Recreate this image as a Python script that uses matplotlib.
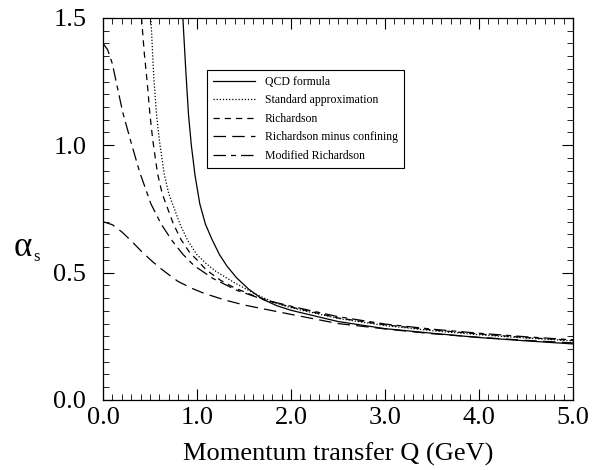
import matplotlib
matplotlib.use("Agg")
import matplotlib.pyplot as plt
from matplotlib.ticker import MultipleLocator, FormatStrFormatter

plt.rcParams['font.family'] = ['Liberation Serif', 'DejaVu Serif']

# ------------------ data ------------------
q_qcd = [0.85, 0.88, 0.91, 0.94, 0.98, 1.03, 1.09, 1.16, 1.24, 1.32, 1.42, 1.55,
         1.70, 1.85, 2.0, 2.25, 2.5, 3.0, 3.5, 4.0, 4.5, 5.0]
a_qcd = [1.5, 1.30, 1.12, 1.00, 0.88, 0.77, 0.69, 0.63, 0.57, 0.525, 0.48, 0.435,
         0.395, 0.37, 0.352, 0.33, 0.308, 0.28, 0.262, 0.245, 0.232, 0.22]

q_std = [0.51, 0.54, 0.57, 0.60, 0.65, 0.70, 0.75, 0.82, 0.90, 1.0, 1.1, 1.2,
         1.4, 1.6, 1.8, 2.0, 2.5, 3.0, 3.5, 4.0, 4.5, 5.0]
a_std = [1.5, 1.27, 1.12, 1.02, 0.89, 0.81, 0.76, 0.69, 0.627, 0.57, 0.535, 0.505,
         0.46, 0.42, 0.385, 0.362, 0.32, 0.292, 0.272, 0.256, 0.243, 0.232]

q_rich = [0.41, 0.44, 0.47, 0.50, 0.53, 0.58, 0.63, 0.68, 0.75, 0.83, 0.92, 1.0,
          1.1, 1.25, 1.4, 1.6, 1.8, 2.0, 2.5, 3.0, 3.5, 4.0, 4.5, 5.0]
a_rich = [1.5, 1.36, 1.25, 1.12, 1.02, 0.89, 0.81, 0.76, 0.69, 0.63, 0.58, 0.55,
          0.51, 0.47, 0.44, 0.41, 0.385, 0.365, 0.322, 0.295, 0.275, 0.259, 0.245, 0.234]

q_conf = [0.0, 0.1, 0.2, 0.3, 0.4, 0.5, 0.6, 0.7, 0.8, 0.96, 1.08, 1.3, 1.5,
          1.7, 2.0, 2.5, 3.0, 3.5, 4.0, 4.5, 5.0]
a_conf = [0.70, 0.688, 0.66, 0.625, 0.587, 0.552, 0.52, 0.492, 0.465, 0.436, 0.418,
          0.392, 0.373, 0.358, 0.336, 0.30, 0.279, 0.26, 0.246, 0.234, 0.224]

q_mod = [0.0, 0.05, 0.10, 0.14, 0.21, 0.30, 0.39, 0.51, 0.62, 0.73, 0.85, 0.97,
         1.17, 1.42, 1.7, 2.0, 2.5, 3.0, 3.5, 4.0, 4.5, 5.0]
a_mod = [1.40, 1.375, 1.32, 1.25, 1.13, 1.01, 0.895, 0.77, 0.69, 0.628, 0.572, 0.527,
         0.477, 0.431, 0.395, 0.368, 0.327, 0.298, 0.278, 0.262, 0.248, 0.236]

labels = ['QCD formula', 'Standard approximation', 'Richardson',
          'Richardson minus confining', 'Modified Richardson']
# ---------------------------------------------------------------

fig = plt.figure(figsize=(6.02, 4.70), dpi=100)
ax = fig.add_axes([0.171, 0.149, 0.781, 0.813])

lw = 0.9
ax.plot(q_qcd, a_qcd, color='black', lw=lw, ls='-', label=labels[0])
ax.plot(q_std, a_std, color='black', lw=lw, ls=(0, (1, 1.5)), label=labels[1])
ax.plot(q_rich, a_rich, color='black', lw=lw, ls=(0, (5, 4)), label=labels[2])
ax.plot(q_conf, a_conf, color='black', lw=lw, ls=(0, (10, 5)), label=labels[3])
ax.plot(q_mod, a_mod, color='black', lw=lw, ls=(0, (10, 4, 4, 4)), label=labels[4])

ax.set_xlim(0, 5)
ax.set_ylim(0, 1.5)
ax.xaxis.set_major_locator(MultipleLocator(1.0))
ax.xaxis.set_minor_locator(MultipleLocator(0.1))
ax.yaxis.set_major_locator(MultipleLocator(0.5))
ax.yaxis.set_minor_locator(MultipleLocator(0.05))
ax.xaxis.set_major_formatter(FormatStrFormatter('%.1f'))
ax.yaxis.set_major_formatter(FormatStrFormatter('%.1f'))
ax.tick_params(which='both', direction='in', top=True, right=True, labelsize=19)
ax.tick_params(which='major', length=8, width=0.8)
ax.tick_params(which='minor', length=4, width=0.6)
ax.tick_params(axis='x', pad=5)
ax.tick_params(axis='y', pad=12)
for sp in ax.spines.values():
    sp.set_linewidth(0.9)

ax.set_xlabel('Momentum transfer Q (GeV)', fontsize=19, labelpad=10)
fig.text(0.038, 0.474, 'α', fontsize=25, ha='center', va='center')
fig.text(0.061, 0.454, 's', fontsize=12, ha='center', va='center')

leg = ax.legend(loc='upper left', bbox_to_anchor=(0.221, 0.864), fontsize=8.5,
                frameon=True, fancybox=False, framealpha=1, edgecolor='black',
                handlelength=3.6, borderpad=0.5, labelspacing=0.55,
                handletextpad=0.8, borderaxespad=0)
leg.get_frame().set_linewidth(0.8)

fig.savefig('out.png', dpi=100)
